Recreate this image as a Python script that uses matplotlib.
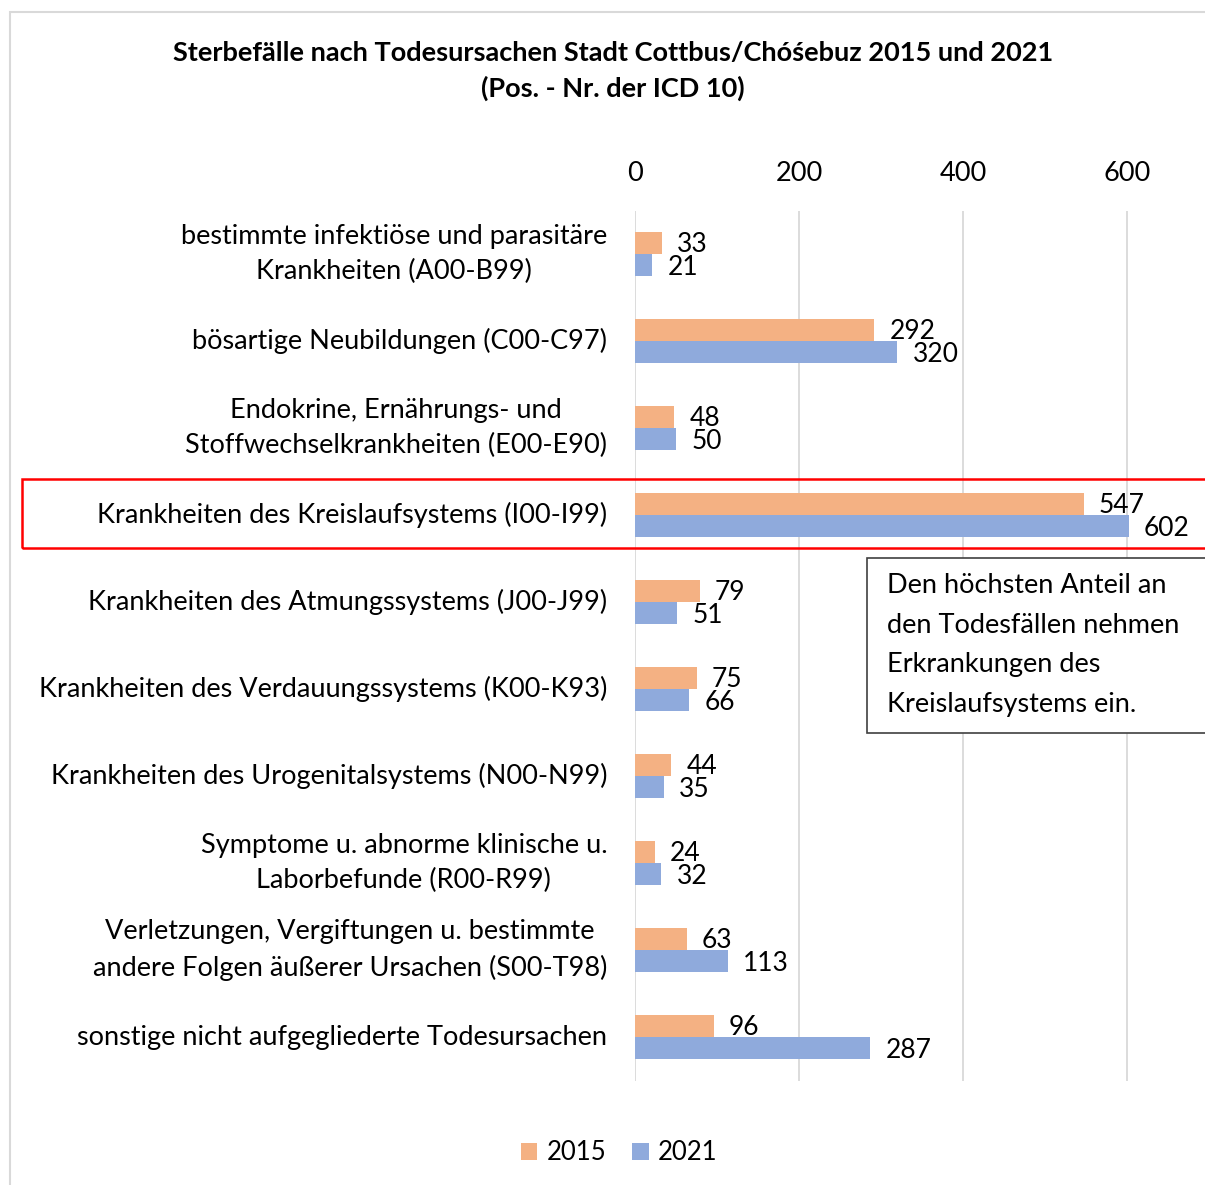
import matplotlib
matplotlib.use("Agg")
import matplotlib.pyplot as plt
from matplotlib.patches import Rectangle
import numpy as np

categories = [
    "bestimmte infektiöse und parasitäre\nKrankheiten (A00-B99)",
    "bösartige Neubildungen (C00-C97)",
    "Endokrine, Ernährungs- und\nStoffwechselkrankheiten (E00-E90)",
    "Krankheiten des Kreislaufsystems (I00-I99)",
    "Krankheiten des Atmungssystems (J00-J99)",
    "Krankheiten des Verdauungssystems (K00-K93)",
    "Krankheiten des Urogenitalsystems (N00-N99)",
    "Symptome u. abnorme klinische u.\nLaborbefunde (R00-R99)",
    "Verletzungen, Vergiftungen u. bestimmte\nandere Folgen äußerer Ursachen (S00-T98)",
    "sonstige nicht aufgegliederte Todesursachen",
]
values_2015 = [33, 292, 48, 547, 79, 75, 44, 24, 63, 96]
values_2021 = [21, 320, 50, 602, 51, 66, 35, 32, 113, 287]
xticks = [0, 200, 400, 600]
title = "Sterbefälle nach Todesursachen Stadt Cottbus/Chóśebuz 2015 und 2021\n(Pos. - Nr. der ICD 10)"
note = "Den höchsten Anteil an\nden Todesfällen nehmen\nErkrankungen des\nKreislaufsystems ein."

plt.rcParams['font.family'] = ['Lato', 'DejaVu Sans']

W, H = 1205, 1185
fig = plt.figure(figsize=(W / 100, H / 100), dpi=100)

def fx(px):
    return px / W

def fy(py):
    return 1 - py / H

FS = 19.5

# axes: left at x=635, right edge at 1205, top 210, bottom 1080
ax_left, ax_top, ax_bottom = 635, 210.5, 1080.5
ax = fig.add_axes([fx(ax_left), fy(ax_bottom), fx(W - ax_left), (ax_bottom - ax_top) / H])

c2015 = "#F4B183"
c2021 = "#8FAADC"
n = len(categories)
y = np.arange(n)
h = 0.255
ax.barh(y - h / 2, values_2015, height=h, color=c2015, label="2015", zorder=3)
ax.barh(y + h / 2, values_2021, height=h, color=c2021, label="2021", zorder=3)

for i in range(n):
    ax.annotate(str(values_2015[i]), (values_2015[i], y[i] - h / 2), xytext=(11, -1.5),
                textcoords="offset points", ha="left", va="center", fontsize=19)
    ax.annotate(str(values_2021[i]), (values_2021[i], y[i] + h / 2), xytext=(11, -1.5),
                textcoords="offset points", ha="left", va="center", fontsize=19)

ax.set_xlim(0, (W - ax_left) / 0.82)
ax.set_ylim(n - 0.5, -0.5)
ax.set_xticks(xticks)
ax.xaxis.tick_top()
ax.tick_params(axis="x", length=0, pad=17.5, labelsize=FS)
ax.set_yticks(y)
ax.set_yticklabels(categories, fontsize=FS, ha="right", va="center",
                   multialignment="center", linespacing=1.5)
ax.tick_params(axis="y", length=0, pad=20)
ax.grid(axis="x", color="#D9D9D9", linewidth=1.3, zorder=0)
for s in ax.spines.values():
    s.set_visible(False)

# figure border
fig.patches.append(Rectangle((fx(10), fy(1200)), fx(1300), (1200 - 12) / H,
                             transform=fig.transFigure, fill=False,
                             edgecolor="#D9D9D9", linewidth=1.5))

# red highlight rectangle
fig.patches.append(Rectangle((fx(22), fy(548)), fx(1300), (548 - 479) / H,
                             transform=fig.transFigure, fill=False,
                             edgecolor="#FF0000", linewidth=1.8, zorder=10))

# note box
fig.patches.append(Rectangle((fx(867), fy(733)), fx(500), (733 - 558) / H,
                             transform=fig.transFigure, facecolor="white",
                             edgecolor="#404040", linewidth=1.2, zorder=10))
fig.text(fx(887), fy(645), note, ha="left", va="center", fontsize=FS,
         linespacing=1.73, zorder=11)

fig.text(fx(613), fy(71), title, ha="center", va="center", fontsize=FS,
         fontweight="bold", linespacing=1.5)

leg = fig.legend(loc="center", bbox_to_anchor=(fx(619), fy(1153)), ncol=2,
                 frameon=False, fontsize=18.5, handlelength=0.65, handleheight=0.65,
                 handletextpad=0.35, columnspacing=1.0)

fig.savefig("out.png", dpi=100)
